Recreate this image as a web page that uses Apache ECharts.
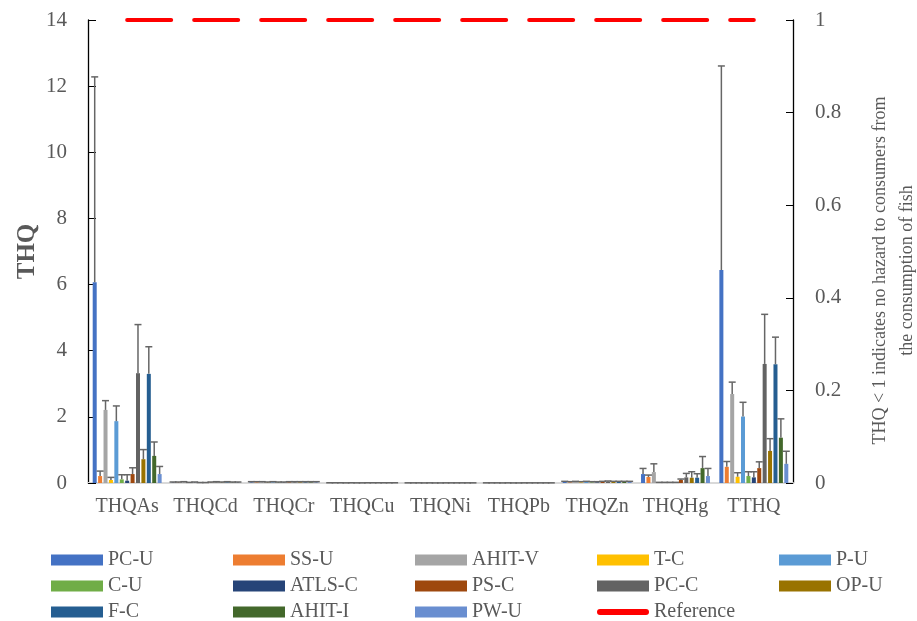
<!DOCTYPE html>
<html>
<head>
<meta charset="utf-8">
<script src="https://cdn.jsdelivr.net/npm/echarts@6/dist/echarts.min.js"></script>
<style>html,body{margin:0;padding:0;background:#fff}#c{width:917px;height:621px}</style>
</head>
<body>
<div id="c"></div>
<script>
// ---- data ----
const categories = ['THQAs','THQCd','THQCr','THQCu','THQNi','THQPb','THQZn','THQHg','TTHQ'];
const seriesNames = ['PC-U','SS-U','AHIT-V','T-C','P-U','C-U','ATLS-C','PS-C','PC-C','OP-U','F-C','AHIT-I','PW-U'];
const seriesColors = ['#4472C4','#ED7D31','#A5A5A5','#FFC000','#5B9BD5','#70AD47','#264478','#9E480E','#636363','#997300','#255E91','#43682B','#698ED0'];
// values per series across categories (As, Cd, Cr, Cu, Ni, Pb, Zn, Hg, TTHQ)
const PC_U   = [6.07, 0.010, 0.020, 0.003, 0.002, 0.002, 0.030, 0.27, 6.44];
const SS_U   = [0.21, 0.010, 0.020, 0.003, 0.002, 0.002, 0.020, 0.18, 0.49];
const AHIT_V = [2.21, 0.020, 0.020, 0.003, 0.002, 0.002, 0.030, 0.33, 2.69];
const T_C    = [0.09, 0.010, 0.010, 0.002, 0.001, 0.001, 0.020, 0.01, 0.19];
const P_U    = [1.87, 0.010, 0.020, 0.003, 0.002, 0.002, 0.030, 0.01, 2.01];
const C_U    = [0.11, 0.005, 0.010, 0.002, 0.001, 0.001, 0.020, 0.01, 0.21];
const ATLS_C = [0.07, 0.005, 0.010, 0.002, 0.001, 0.001, 0.020, 0.01, 0.17];
const PS_C   = [0.27, 0.010, 0.020, 0.003, 0.002, 0.002, 0.030, 0.09, 0.45];
const PC_C   = [3.32, 0.020, 0.020, 0.003, 0.002, 0.002, 0.040, 0.17, 3.60];
const OP_U   = [0.72, 0.010, 0.020, 0.003, 0.002, 0.002, 0.030, 0.16, 0.97];
const F_C    = [3.30, 0.020, 0.020, 0.003, 0.002, 0.002, 0.030, 0.16, 3.59];
const AHIT_I = [0.82, 0.010, 0.020, 0.003, 0.002, 0.002, 0.030, 0.45, 1.37];
const PW_U   = [0.27, 0.010, 0.020, 0.003, 0.002, 0.002, 0.030, 0.21, 0.58];
// positive error amounts per series
const PC_U_err   = [6.21, 0.02, 0.02, 0.004, 0.003, 0.003, 0.02, 0.17, 6.17];
const SS_U_err   = [0.15, 0.02, 0.02, 0.004, 0.003, 0.003, 0.02, 0.06, 0.16];
const AHIT_V_err = [0.28, 0.02, 0.02, 0.004, 0.003, 0.003, 0.02, 0.25, 0.36];
const T_C_err    = [0.08, 0.01, 0.02, 0.003, 0.002, 0.002, 0.02, 0.01, 0.12];
const P_U_err    = [0.46, 0.02, 0.02, 0.004, 0.003, 0.003, 0.02, 0.01, 0.43];
const C_U_err    = [0.14, 0.01, 0.02, 0.003, 0.002, 0.002, 0.02, 0.01, 0.13];
const ATLS_C_err = [0.18, 0.01, 0.02, 0.003, 0.002, 0.002, 0.02, 0.01, 0.17];
const PS_C_err   = [0.19, 0.02, 0.02, 0.004, 0.003, 0.003, 0.02, 0.03, 0.19];
const PC_C_err   = [1.47, 0.02, 0.02, 0.004, 0.003, 0.003, 0.02, 0.12, 1.50];
const OP_U_err   = [0.29, 0.02, 0.02, 0.004, 0.003, 0.003, 0.02, 0.18, 0.37];
const F_C_err    = [0.82, 0.02, 0.02, 0.004, 0.003, 0.003, 0.02, 0.12, 0.82];
const AHIT_I_err = [0.42, 0.02, 0.02, 0.004, 0.003, 0.003, 0.02, 0.35, 0.57];
const PW_U_err   = [0.23, 0.02, 0.02, 0.004, 0.003, 0.003, 0.02, 0.23, 0.38];
const reference = [1, 1, 1, 1, 1, 1, 1, 1, 1];
const leftTicks = [0, 2, 4, 6, 8, 10, 12, 14];
const rightTicks = [0, 0.2, 0.4, 0.6, 0.8, 1];

const values = [PC_U, SS_U, AHIT_V, T_C, P_U, C_U, ATLS_C, PS_C, PC_C, OP_U, F_C, AHIT_I, PW_U];
const errors = [PC_U_err, SS_U_err, AHIT_V_err, T_C_err, P_U_err, C_U_err, ATLS_C_err, PS_C_err, PC_C_err, OP_U_err, F_C_err, AHIT_I_err, PW_U_err];

// ---- chart ----
const FONT = "Liberation Serif";
const TXT = '#595959';
const CAT_GAP = 0.12, BAR_GAP = 0.35, N = seriesNames.length;

const series = [];
seriesNames.forEach((name, i) => {
  series.push({
    name: name, type: 'bar', data: values[i],
    barGap: (BAR_GAP * 100) + '%', barCategoryGap: (CAT_GAP * 100) + '%',
    itemStyle: { color: seriesColors[i] }, z: 2
  });
});
const errData = [];
values.forEach((arr, si) => arr.forEach((v, ci) => errData.push([ci, v + errors[si][ci], v, si])));
series.push({
  type: 'custom', name: 'err', z: 5, silent: true,
  encode: { x: 0, y: 1 },
  data: errData,
  renderItem: function (params, api) {
    const ci = api.value(0), top = api.value(1), v = api.value(2), si = api.value(3);
    const band = api.size([1, 0])[0];
    const w = band * (1 - CAT_GAP) / (N + (N - 1) * BAR_GAP);
    const pitch = w * (1 + BAR_GAP);
    const cx = api.coord([ci, 0])[0] + (si - (N - 1) / 2) * pitch;
    const y0 = api.coord([ci, v])[1];
    const y1 = api.coord([ci, top])[1];
    const st = { stroke: '#666666', lineWidth: 1.5 };
    return { type: 'group', children: [
      { type: 'line', shape: { x1: cx, y1: y0, x2: cx, y2: y1 }, style: st },
      { type: 'line', shape: { x1: cx - 3.5, y1: y1, x2: cx + 3.5, y2: y1 }, style: st }
    ]};
  }
});
series.push({
  name: 'Reference', type: 'line', yAxisIndex: 1, data: reference, symbol: 'none', z: 6,
  lineStyle: { color: '#FF0000', width: 4, type: [44, 23], cap: 'round' },
  itemStyle: { color: '#FF0000' }
});

const legendNames = seriesNames.concat(['Reference']);
const legendColors = seriesColors.concat(['#FF0000']);
const legendText = { fontFamily: FONT, fontSize: 20, color: TXT };
const legends = legendNames.map((name, k) => {
  const col = k % 5, row = Math.floor(k / 5);
  const isRef = name === 'Reference';
  return {
    data: [{ name: name, icon: isRef ? 'path://M3,0 L49,0 A3,3 0 0 1 49,6 L3,6 A3,3 0 0 1 3,0 Z' : 'rect',
             itemStyle: { color: legendColors[k] }, textStyle: legendText }],
    left: 51 + col * 182, top: 550 + row * 26, padding: 0,
    itemWidth: 52, itemHeight: isRef ? 7 : 11, itemGap: 0,
    selectedMode: false,
    textStyle: legendText
  };
});

const chart = echarts.init(document.getElementById('c'));
chart.setOption({
  animation: false,
  backgroundColor: '#fff',
  textStyle: { fontFamily: FONT },
  grid: { left: 88, right: 124, top: 20, bottom: 138, containLabel: false, outerBoundsMode: 'none' },
  legend: legends,
  xAxis: {
    type: 'category', data: categories,
    axisLine: { lineStyle: { color: '#d9d9d9', width: 2 } },
    axisTick: { show: false },
    axisLabel: { interval: 0, fontFamily: FONT, fontSize: 20, color: TXT, margin: 14 }
  },
  yAxis: [{
    type: 'value', min: leftTicks[0], max: leftTicks[leftTicks.length - 1], interval: 2,
    name: 'THQ', nameLocation: 'middle', nameRotate: 90, nameGap: 48, nameMoveOverlap: false,
    nameTextStyle: { fontFamily: FONT, fontSize: 25, fontWeight: 'bold', color: TXT },
    axisLine: { show: true, lineStyle: { color: '#000', width: 1.3 } },
    axisTick: { show: true, inside: true, length: 8, lineStyle: { color: '#000' } },
    axisLabel: { fontFamily: FONT, fontSize: 21, color: TXT, margin: 21 },
    splitLine: { show: false }
  }, {
    type: 'value', position: 'right', min: rightTicks[0], max: rightTicks[rightTicks.length - 1], interval: 0.2,
    name: 'THQ < 1 indicates no hazard to consumers from\nthe consumption of fish',
    nameLocation: 'middle', nameRotate: 90, nameGap: 74,
    nameTextStyle: { fontFamily: FONT, fontSize: 18, color: TXT, lineHeight: 27, align: 'center', padding: [0, 38, 0, 0] },
    axisLine: { show: true, lineStyle: { color: '#000', width: 1.3 } },
    axisTick: { show: true, inside: true, length: 7, lineStyle: { color: '#000' } },
    axisLabel: { fontFamily: FONT, fontSize: 21, color: TXT, margin: 22 },
    splitLine: { show: false }
  }],
  series: series
});
</script>
</body>
</html>
